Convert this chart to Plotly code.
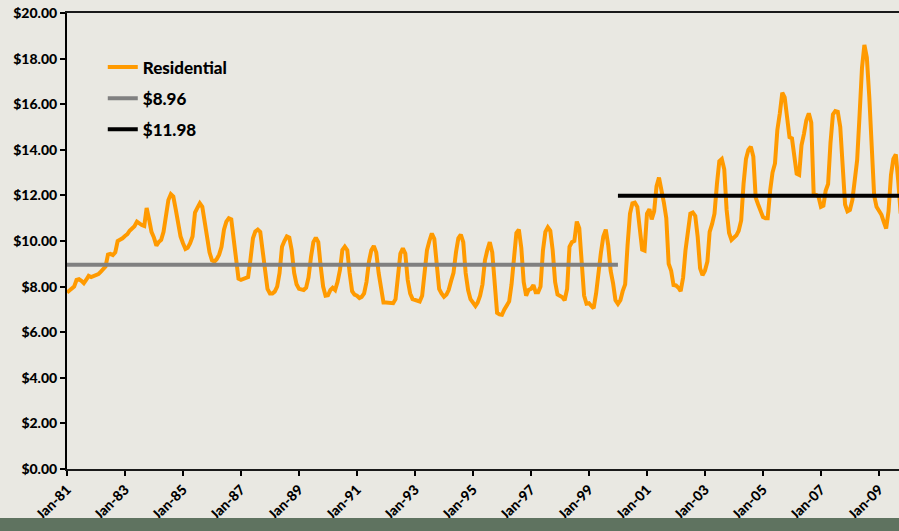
import pandas as pd
import plotly.graph_objects as go

# Monthly residential price ($ per unit), Jan 1981 onward, one list per year
p1981 = [7.74, 7.85, 7.95, 8.00, 8.29, 8.32, 8.25, 8.15, 8.30, 8.47, 8.42, 8.45]
p1982 = [8.50, 8.55, 8.65, 8.78, 8.88, 9.40, 9.43, 9.38, 9.50, 10.00, 10.05, 10.12]
p1983 = [10.22, 10.30, 10.45, 10.55, 10.65, 10.85, 10.75, 10.70, 10.66, 11.45, 10.95, 10.40]
p1984 = [10.15, 9.80, 9.95, 10.05, 10.40, 11.20, 11.80, 12.05, 11.95, 11.40, 10.63, 10.20]
p1985 = [9.90, 9.65, 9.70, 9.90, 10.20, 11.25, 11.45, 11.65, 11.50, 10.80, 10.10, 9.50]
p1986 = [9.15, 9.10, 9.20, 9.40, 9.75, 10.50, 10.85, 11.00, 10.95, 10.00, 9.00, 8.35]
p1987 = [8.30, 8.33, 8.38, 8.42, 9.20, 10.12, 10.42, 10.50, 10.40, 9.50, 8.60, 7.90]
p1988 = [7.70, 7.70, 7.78, 8.00, 8.60, 9.75, 10.00, 10.20, 10.15, 9.60, 8.60, 8.10]
p1989 = [7.90, 7.85, 7.85, 7.95, 8.40, 9.30, 9.95, 10.15, 9.95, 8.90, 8.00, 7.60]
p1990 = [7.62, 7.85, 7.95, 7.85, 8.20, 8.73, 9.60, 9.75, 9.60, 8.60, 7.80, 7.65]
p1991 = [7.60, 7.50, 7.55, 7.70, 8.20, 9.10, 9.60, 9.78, 9.50, 8.60, 7.80, 7.30]
p1992 = [7.30, 7.30, 7.30, 7.27, 7.45, 8.70, 9.45, 9.68, 9.45, 8.30, 7.70, 7.45]
p1993 = [7.40, 7.38, 7.35, 7.60, 8.80, 9.60, 10.00, 10.33, 10.10, 9.00, 7.90, 7.70]
p1994 = [7.55, 7.65, 7.85, 8.25, 8.60, 9.50, 10.12, 10.28, 9.95, 8.60, 7.85, 7.45]
p1995 = [7.30, 7.15, 7.30, 7.60, 8.10, 9.15, 9.60, 9.95, 9.50, 7.90, 6.85, 6.78]
p1996 = [6.76, 7.00, 7.20, 7.35, 8.10, 9.40, 10.35, 10.50, 9.70, 8.20, 7.60, 7.85]
p1997 = [7.90, 8.07, 7.75, 7.75, 8.00, 9.60, 10.40, 10.60, 10.45, 9.60, 8.20, 7.65]
p1998 = [7.58, 7.53, 7.40, 7.90, 9.75, 9.95, 10.00, 10.85, 10.56, 9.30, 7.60, 7.25]
p1999 = [7.27, 7.15, 7.05, 7.70, 8.70, 9.50, 10.20, 10.50, 9.80, 8.70, 8.14, 7.40]
p2000 = [7.24, 7.40, 7.80, 8.10, 9.80, 11.20, 11.65, 11.68, 11.50, 10.40, 9.62, 9.58]
p2001 = [11.20, 11.40, 10.95, 11.30, 12.40, 12.78, 12.30, 11.70, 11.00, 9.00, 8.70, 8.07]
p2002 = [8.05, 7.95, 7.80, 8.40, 9.60, 10.50, 11.20, 11.25, 11.10, 10.20, 8.80, 8.50]
p2003 = [8.70, 9.10, 10.40, 10.75, 11.20, 12.50, 13.50, 13.60, 13.15, 11.36, 10.35, 10.05]
p2004 = [10.15, 10.25, 10.45, 10.90, 12.50, 13.60, 14.00, 14.14, 13.70, 11.90, 11.60, 11.30]
p2005 = [11.05, 11.00, 11.00, 12.20, 13.00, 13.40, 14.87, 15.60, 16.50, 16.30, 15.40, 14.55]
p2006 = [14.50, 13.50, 12.95, 12.90, 14.20, 14.70, 15.30, 15.60, 15.20, 12.10, 12.02, 11.95]
p2007 = [11.50, 11.55, 12.20, 12.50, 14.30, 15.55, 15.70, 15.67, 15.00, 13.50, 11.60, 11.30]
p2008 = [11.36, 11.80, 12.50, 13.55, 15.50, 17.60, 18.60, 18.05, 16.30, 14.40, 12.00, 11.50]
p2009 = [11.35, 11.15, 10.85, 10.55, 11.30, 12.90, 13.60, 13.80, 12.60, 11.20]

residential = (p1981 + p1982 + p1983 + p1984 + p1985 + p1986 + p1987 + p1988
               + p1989 + p1990 + p1991 + p1992 + p1993 + p1994 + p1995 + p1996
               + p1997 + p1998 + p1999 + p2000 + p2001 + p2002 + p2003 + p2004
               + p2005 + p2006 + p2007 + p2008 + p2009)
months = pd.date_range("1981-01-01", periods=len(residential), freq="MS")

# Period averages
avg_early = 8.96   # 1981 through 1999
avg_late = 11.98   # 2000 onward
split_month = pd.Timestamp("2000-01-01")

early_x = [m for m in months if m <= split_month]
late_x = [m for m in months if m >= split_month]

FONT = "Lato"
bg = "#e9e8e2"

fig = go.Figure()
fig.add_trace(go.Scatter(
    x=months, y=residential, mode="lines", name="Residential",
    line=dict(color="#ff9a00", width=4), legendgroup="a",
))
fig.add_trace(go.Scatter(
    x=early_x, y=[avg_early] * len(early_x), mode="lines",
    name=f"${avg_early:.2f}",
    line=dict(color="#808080", width=4), legendgroup="b",
))
fig.add_trace(go.Scatter(
    x=late_x, y=[avg_late] * len(late_x), mode="lines",
    name=f"${avg_late:.2f}",
    line=dict(color="#000000", width=4), legendgroup="c",
))

# dark band along the bottom edge of the page
fig.add_shape(type="rect", xref="paper", yref="paper",
              x0=-0.1, x1=1.0, y0=-0.14, y1=-0.1075,
              fillcolor="#5f7360", line=dict(width=0), layer="above")

fig.update_layout(
    width=899, height=531,
    margin=dict(l=67, r=0, t=13, b=62),
    paper_bgcolor=bg, plot_bgcolor=bg,
    font=dict(family=FONT, color="#000000"),
    showlegend=True,
    legend=dict(
        x=0.043, y=0.92, xanchor="left", yanchor="top",
        bgcolor="rgba(0,0,0,0)",
        font=dict(family=FONT, size=17, weight=900),
        tracegroupgap=6,
    ),
    xaxis=dict(
        type="date",
        range=["1981-01-01", "2009-09-10"],
        tick0="1981-01-01", dtick="M24", tickformat="%b-%y",
        tickangle=-45,
        ticks="outside", ticklen=5, tickwidth=1.5, tickcolor="#000000",
        showline=True, linecolor="#1a1a1a", linewidth=2, mirror=True,
        showgrid=False, zeroline=False,
        tickfont=dict(family=FONT, size=14, weight=900),
    ),
    yaxis=dict(
        range=[0, 20], dtick=2, tickprefix="$", tickformat=".2f",
        ticks="outside", ticklen=5, tickwidth=1.5, tickcolor="#000000",
        showline=True, linecolor="#000000", linewidth=2,
        showgrid=False, zeroline=False,
        tickfont=dict(family=FONT, size=14, weight=900),
    ),
)

fig.write_html("out.html")
